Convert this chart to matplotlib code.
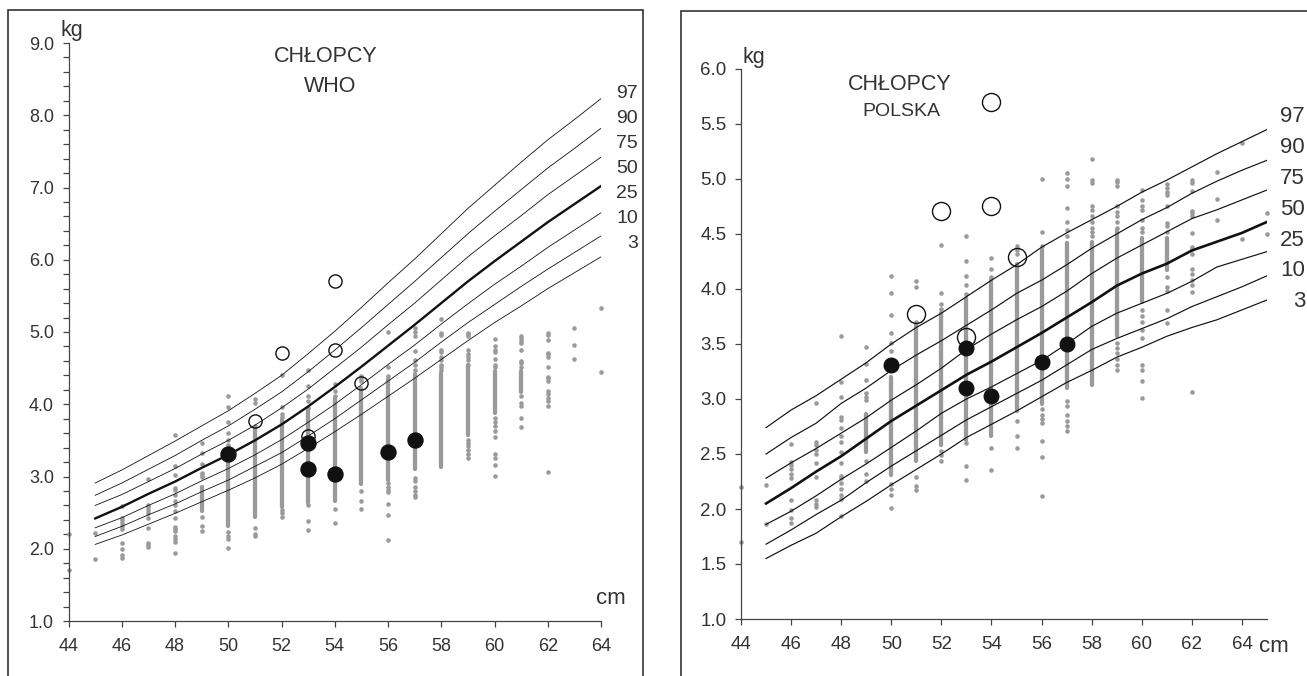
import matplotlib
matplotlib.use("Agg")
import matplotlib.pyplot as plt
from matplotlib.patches import Rectangle
from matplotlib.ticker import MultipleLocator

plt.rcParams['font.family'] = ['Liberation Sans', 'DejaVu Sans']

TXT = '#333333'
AXC = '#444444'
DOT = '#9a9a9a'
INK = '#111111'

W, H = 1307, 676

# --- gray dots: single measurements per length (cm) -> weights (kg)
dots_by_length = {
    44: [2.20, 1.70],
    45: [2.22, 1.86],
    46: [2.59, 2.43, 2.40, 2.36, 2.32, 2.28, 2.08, 1.99, 1.92, 1.87],
    47: [2.96, 2.61, 2.58, 2.54, 2.50, 2.42, 2.29, 2.08, 2.05, 2.02],
    48: [3.57, 3.15, 3.02, 2.84, 2.81, 2.74, 2.66, 2.61, 2.52, 2.42, 2.30,
         2.28, 2.24, 2.18, 2.13, 2.09, 1.94],
    49: [3.47, 3.32, 3.17, 3.05, 3.02, 2.99, 2.44, 2.32, 2.25],
    50: [4.12, 3.96, 3.76, 3.60, 3.51, 3.44, 2.23, 2.18, 2.13, 2.01],
    51: [4.07, 4.02, 3.70, 2.29, 2.21, 2.17],
    52: [4.40, 3.96, 3.86, 3.82, 2.53, 2.49, 2.44],
    53: [4.48, 4.25, 4.12, 4.04, 3.95, 2.60, 2.39, 2.26],
    54: [4.28, 4.18, 4.11, 2.55, 2.35],
    55: [4.39, 4.35, 4.32, 2.80, 2.66, 2.55],
    56: [5.00, 4.52, 4.39, 2.91, 2.85, 2.82, 2.78, 2.62, 2.47, 2.12],
    57: [5.05, 5.00, 4.94, 4.74, 4.61, 4.54, 4.48, 2.98, 2.94, 2.85, 2.80,
         2.75, 2.71],
    58: [5.18, 4.99, 4.96, 4.75, 4.72, 4.66, 4.61, 4.55, 4.52, 4.48],
    59: [4.99, 4.97, 4.94, 4.75, 4.70, 4.66, 4.61, 4.55, 3.51, 3.46, 3.42,
         3.36, 3.31, 3.26],
    60: [4.90, 4.81, 4.75, 4.72, 4.63, 4.55, 4.52, 3.81, 3.75, 3.70, 3.63,
         3.55, 3.31, 3.26, 3.16, 3.01],
    61: [4.95, 4.92, 4.88, 4.85, 4.75, 4.60, 4.57, 4.52, 4.11, 4.02, 3.98,
         3.81, 3.69],
    62: [4.99, 4.96, 4.89, 4.71, 4.69, 4.66, 4.51, 4.38, 4.36, 4.32, 4.18,
         4.14, 4.08, 4.04, 3.97, 3.06],
    63: [5.06, 4.82, 4.63],
    64: [5.33, 4.45],
    65: [4.69, 4.50],
}

# columns so dense that the dots merge into a bar: length, lowest, highest
dense_cm = [49, 50, 51, 52, 53, 54, 55, 56, 57, 58, 59, 60, 61]
dense_lo = [2.52, 2.31, 2.44, 2.58, 2.63, 2.66, 2.89, 2.95, 3.10, 3.13, 3.57, 3.88, 4.17]
dense_hi = [2.86, 3.20, 3.67, 3.78, 3.92, 4.08, 4.23, 4.35, 4.42, 4.43, 4.54, 4.46, 4.46]

# highlighted children
filled_cm = [50, 53, 53, 54, 56, 57]
filled_kg = [3.31, 3.46, 3.10, 3.03, 3.34, 3.50]
open_cm = [51, 52, 53, 54, 54, 55]
open_kg = [3.77, 4.71, 3.56, 4.75, 5.70, 4.29]

percentiles = ['97', '90', '75', '50', '25', '10', '3']

# --- WHO centile curves
who_x = [45, 46, 47, 48, 49, 50, 51, 52, 53, 54, 55, 56, 57, 58, 59, 60,
         61, 62, 63, 64, 64.4]
who_p97 = [2.91, 3.09, 3.29, 3.49, 3.70, 3.91, 4.15, 4.40, 4.70, 5.01, 5.34,
           5.68, 6.01, 6.36, 6.71, 7.03, 7.35, 7.66, 7.94, 8.23, 8.31]
who_p90 = [2.74, 2.91, 3.10, 3.29, 3.50, 3.70, 3.93, 4.17, 4.45, 4.75, 5.06,
           5.38, 5.70, 6.03, 6.36, 6.67, 6.97, 7.27, 7.54, 7.82, 7.90]
who_p75 = [2.60, 2.75, 2.93, 3.11, 3.31, 3.50, 3.71, 3.95, 4.21, 4.50, 4.79,
           5.10, 5.40, 5.72, 6.04, 6.33, 6.61, 6.90, 7.16, 7.42, 7.51]
who_p50 = [2.42, 2.58, 2.76, 2.93, 3.12, 3.30, 3.50, 3.72, 3.97, 4.24, 4.52,
           4.81, 5.10, 5.40, 5.70, 5.98, 6.25, 6.52, 6.77, 7.02, 7.12]
who_p25 = [2.29, 2.43, 2.60, 2.76, 2.94, 3.11, 3.30, 3.51, 3.75, 4.00, 4.27,
           4.55, 4.82, 5.11, 5.39, 5.66, 5.91, 6.17, 6.41, 6.65, 6.73]
who_p10 = [2.17, 2.31, 2.47, 2.62, 2.79, 2.95, 3.14, 3.33, 3.56, 3.80, 4.06,
           4.32, 4.58, 4.86, 5.13, 5.38, 5.63, 5.87, 6.10, 6.33, 6.40]
who_p3 = [2.06, 2.19, 2.34, 2.49, 2.65, 2.81, 2.98, 3.17, 3.39, 3.62, 3.86,
          4.11, 4.36, 4.62, 4.88, 5.13, 5.36, 5.60, 5.82, 6.04, 6.11]

# --- Polish centile curves
pl_x = [45, 46, 47, 48, 49, 50, 51, 52, 53, 54, 55, 56, 57, 58, 59, 60,
        61, 62, 63, 64, 65]
pl_p97 = [2.74, 2.90, 3.03, 3.18, 3.33, 3.50, 3.65, 3.78, 3.93, 4.08, 4.22,
          4.38, 4.51, 4.63, 4.75, 4.88, 4.99, 5.11, 5.23, 5.34, 5.45]
pl_p90 = [2.50, 2.65, 2.78, 2.96, 3.10, 3.26, 3.40, 3.53, 3.67, 3.81, 3.96,
          4.08, 4.22, 4.37, 4.50, 4.63, 4.74, 4.87, 4.98, 5.08, 5.17]
pl_p75 = [2.28, 2.42, 2.55, 2.69, 2.83, 2.99, 3.13, 3.28, 3.45, 3.59, 3.72,
          3.84, 3.98, 4.14, 4.28, 4.40, 4.52, 4.64, 4.72, 4.81, 4.90]
pl_p50 = [2.05, 2.19, 2.34, 2.48, 2.64, 2.80, 2.94, 3.08, 3.22, 3.34, 3.47,
          3.60, 3.74, 3.88, 4.03, 4.14, 4.23, 4.35, 4.43, 4.51, 4.61]
pl_p25 = [1.86, 1.98, 2.12, 2.27, 2.41, 2.56, 2.71, 2.87, 3.00, 3.11, 3.23,
          3.35, 3.50, 3.66, 3.78, 3.87, 3.96, 4.07, 4.20, 4.27, 4.34]
pl_p10 = [1.68, 1.81, 1.95, 2.08, 2.24, 2.39, 2.53, 2.67, 2.81, 2.93, 3.05,
          3.17, 3.31, 3.45, 3.55, 3.64, 3.73, 3.84, 3.93, 4.02, 4.12]
pl_p3 = [1.55, 1.67, 1.78, 1.93, 2.07, 2.22, 2.36, 2.50, 2.65, 2.77, 2.89,
         3.02, 3.15, 3.26, 3.38, 3.47, 3.57, 3.65, 3.72, 3.81, 3.90]


def fx(x):
    return x / W


def fy(y):
    return 1 - y / H


def draw_panel(ax, xmax, ymax, ystep, yminor, tick_fs, cx, curves,
               thin_lw, thick_lw, open_ms, filled_ms):
    ax.set_xlim(44, xmax)
    ax.set_ylim(1, ymax)
    ax.patch.set_alpha(0)
    for s in ['top', 'right']:
        ax.spines[s].set_visible(False)
    for s in ['left', 'bottom']:
        ax.spines[s].set_color(AXC)
        ax.spines[s].set_linewidth(0.9)
    ax.set_xticks(range(44, 65, 2))
    yt = [1 + i * ystep for i in range(int(round((ymax - 1) / ystep)) + 1)]
    ax.set_yticks(yt)
    ax.set_yticklabels(['%.1f' % v for v in yt])
    if yminor:
        ax.yaxis.set_minor_locator(MultipleLocator(yminor))
    ax.tick_params(which='both', direction='out', length=4.5, width=0.9,
                   color=AXC, labelcolor=TXT, labelsize=tick_fs)
    ax.tick_params(axis='x', pad=8)
    ax.tick_params(axis='y', pad=6)

    # gray dots
    lc = ax.vlines(dense_cm, dense_lo, dense_hi, colors=DOT, linewidth=3.1,
                   zorder=1)
    lc.set_capstyle('round')
    for cm, kgs in dots_by_length.items():
        if cm > xmax:
            continue
        ax.plot([cm] * len(kgs), kgs, 'o', ms=3.3, color=DOT, mec='none',
                clip_on=False, zorder=2)

    # centile curves
    for name, ys in zip(percentiles, curves):
        lw = thick_lw if name == '50' else thin_lw
        ax.plot(cx, ys, color=INK, lw=lw, zorder=3, solid_joinstyle='round')

    ax.plot(filled_cm, filled_kg, 'o', ms=filled_ms, color=INK, mec=INK,
            zorder=5)
    ax.plot(open_cm, open_kg, 'o', ms=open_ms, mfc='none', mec=INK, mew=1.0,
            zorder=5)


fig = plt.figure(figsize=(W / 100, H / 100), dpi=100)

# panel frames
fig.add_artist(Rectangle((fx(8), -0.05), fx(635), fy(10) + 0.05,
                         transform=fig.transFigure, fill=False, lw=1.1,
                         ec='#222222'))
fig.add_artist(Rectangle((fx(681), -0.05), 1.0, fy(11) + 0.05,
                         transform=fig.transFigure, fill=False, lw=1.1,
                         ec='#222222'))

ax1 = fig.add_axes([fx(68.6), fy(621), fx(601 - 68.6), (621 - 43) / H])
draw_panel(ax1, 64, 9, 1.0, 0.2, 13,
           who_x, [who_p97, who_p90, who_p75, who_p50, who_p25, who_p10, who_p3],
           0.6, 1.7, 9.5, 10.8)

ax2 = fig.add_axes([fx(741), fy(619), fx(1267 - 741), (619 - 69) / H])
draw_panel(ax2, 65, 6, 0.5, None, 13.5,
           pl_x, [pl_p97, pl_p90, pl_p75, pl_p50, pl_p25, pl_p10, pl_p3],
           0.85, 1.9, 13, 10.5)

# titles and units
fig.text(fx(326), fy(57), 'CHŁOPCY', ha='center', va='center', fontsize=15.5, color=TXT)
fig.text(fx(330), fy(87), 'WHO', ha='center', va='center', fontsize=15.5, color=TXT)
fig.text(fx(900), fy(85), 'CHŁOPCY', ha='center', va='center', fontsize=15.5, color=TXT)
fig.text(fx(901), fy(112), 'POLSKA', ha='center', va='center', fontsize=14, color=TXT)

fig.text(fx(61), fy(36), 'kg', ha='left', va='baseline', fontsize=15.5, color=TXT)
fig.text(fx(743), fy(63), 'kg', ha='left', va='baseline', fontsize=15.5, color=TXT)
fig.text(fx(596), fy(604), 'cm', ha='left', va='baseline', fontsize=16, color=TXT)
fig.text(fx(1259), fy(652), 'cm', ha='left', va='baseline', fontsize=16, color=TXT)

# centile labels
for i, lab in enumerate(percentiles):
    fig.text(fx(638), fy(93 + 25.1 * i), lab, ha='right', va='center',
             fontsize=14, color=TXT)
    fig.text(fx(1305), fy(117 + 30.8 * i), lab, ha='right', va='center',
             fontsize=16, color=TXT)

fig.savefig('out.png', dpi=100)
